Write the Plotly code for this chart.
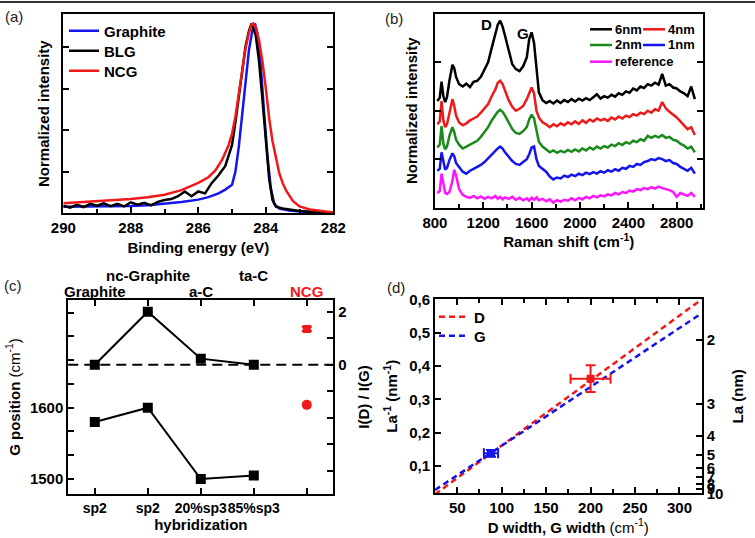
import plotly.graph_objects as go

W, H = 755, 538
FONT = "Liberation Sans, Arial, sans-serif"

# ---------------- (a) XPS C1s spectra ----------------
xps_names = ["Graphite", "BLG", "NCG"]
graphite_e = [290, 289, 288, 287.5, 287, 286.5, 286, 285.7, 285.4, 285.2, 285.0, 284.9, 284.8, 284.7,
              284.6, 284.5, 284.4, 284.32, 284.25, 284.15, 284.05, 283.95, 283.85, 283.75, 283.6, 283.3,
              283.0, 282.5, 282]
graphite_i = [0.035, 0.036, 0.039, 0.043, 0.05, 0.06, 0.072, 0.085, 0.105, 0.125, 0.15, 0.22, 0.35, 0.53,
              0.71, 0.86, 0.96, 1.0, 0.95, 0.78, 0.53, 0.30, 0.13, 0.05, 0.025, 0.015, 0.01, 0.006, 0.003]
blg_e = [290, 289.8, 289.6, 289.4, 289.2, 289, 288.8, 288.6, 288.4, 288.2, 288, 287.8, 287.6, 287.4, 287.2,
         287.0, 286.8, 286.6, 286.4, 286.2, 286.0, 285.8, 285.6, 285.4, 285.2, 285.0, 284.9, 284.8, 284.7,
         284.6, 284.5, 284.42, 284.3, 284.2, 284.1, 284.0, 283.9, 283.8, 283.7, 283.5, 283.3, 283.0, 282.5, 282]
blg_i = [0.04, 0.03, 0.045, 0.033, 0.05, 0.04, 0.052, 0.038, 0.05, 0.036, 0.058, 0.045, 0.055, 0.042, 0.06,
         0.07, 0.075, 0.09, 0.115, 0.09, 0.115, 0.105, 0.16, 0.2, 0.25, 0.36, 0.48, 0.62, 0.76,
         0.88, 0.96, 1.0, 0.94, 0.80, 0.60, 0.40, 0.18, 0.07, 0.035, 0.025, 0.02, 0.012, 0.006, 0.003]
ncg_e = [290, 289.5, 289, 288.5, 288, 287.5, 287, 286.5, 286, 285.7, 285.5, 285.3, 285.1, 285.0, 284.9,
         284.8, 284.7, 284.6, 284.5, 284.42, 284.38, 284.3, 284.2, 284.1, 284.0, 283.9, 283.8, 283.7, 283.6,
         283.5, 283.4, 283.2, 283.0, 282.7, 282.4, 282.2, 282]
ncg_i = [0.053, 0.058, 0.063, 0.068, 0.075, 0.085, 0.098, 0.122, 0.16, 0.19, 0.225, 0.28, 0.36, 0.42, 0.51,
         0.63, 0.76, 0.87, 0.95, 0.995, 1.0, 0.98, 0.91, 0.80, 0.66, 0.50, 0.38, 0.29, 0.21,
         0.16, 0.12, 0.065, 0.036, 0.02, 0.012, 0.008, 0.004]

# ---------------- (b) Raman spectra (offset) ----------------
raman_names = ["6nm", "4nm", "2nm", "1nm", "reference"]
raman_shift = [820, 840, 855, 870, 885, 900, 920, 945, 960, 975,
               1000, 1030, 1060, 1090, 1120, 1150, 1180, 1210, 1240, 1270,
               1300, 1320, 1340, 1360, 1380, 1410, 1440, 1470, 1500, 1530,
               1560, 1580, 1600, 1620, 1640, 1660, 1690, 1720, 1750, 1780,
               1810, 1840, 1870, 1900, 1930, 1960, 1990, 2020, 2050, 2080,
               2110, 2140, 2170, 2200, 2230, 2260, 2290, 2320, 2350, 2380,
               2410, 2440, 2470, 2500, 2530, 2560, 2590, 2620, 2650, 2680,
               2710, 2740, 2770, 2800, 2830, 2860, 2890, 2920, 2950]
raman_6nm = [2.20, 2.27, 2.60, 2.30, 2.18, 2.28, 2.62, 2.95, 2.88, 2.70,
             2.55, 2.50, 2.56, 2.49, 2.60, 2.62, 2.70, 2.85, 3.00, 3.30,
             3.62, 3.78, 3.86, 3.74, 3.55, 3.22, 2.96, 2.86, 2.82, 2.92,
             3.10, 3.48, 3.62, 3.40, 2.80, 2.38, 2.22, 2.16, 2.20, 2.15,
             2.21, 2.16, 2.22, 2.18, 2.24, 2.19, 2.25, 2.21, 2.26, 2.22,
             2.28, 2.34, 2.25, 2.30, 2.27, 2.33, 2.29, 2.36, 2.33, 2.40,
             2.37, 2.46, 2.42, 2.50, 2.47, 2.55, 2.52, 2.58, 2.54, 2.76,
             2.52, 2.55, 2.48, 2.46, 2.40, 2.36, 2.30, 2.50, 2.24]
raman_4nm = [1.72, 1.78, 2.20, 1.80, 1.66, 1.72, 1.95, 2.24, 2.10, 1.90,
             1.76, 1.70, 1.74, 1.80, 1.84, 1.88, 1.96, 2.05, 2.14, 2.30,
             2.44, 2.58, 2.62, 2.55, 2.40, 2.22, 2.08, 2.00, 2.04, 2.10,
             2.24, 2.38, 2.48, 2.36, 2.00, 1.86, 1.76, 1.72, 1.66, 1.72,
             1.68, 1.74, 1.70, 1.76, 1.72, 1.78, 1.73, 1.80, 1.75, 1.82,
             1.78, 1.84, 1.80, 1.83, 1.79, 1.86, 1.82, 1.88, 1.84, 1.90,
             1.87, 1.93, 1.90, 1.96, 1.93, 2.00, 1.96, 2.03, 2.00, 2.18,
             2.05, 1.98, 1.92, 1.86, 1.78, 1.70, 1.62, 1.66, 1.50]
raman_2nm = [1.24, 1.30, 1.68, 1.32, 1.20, 1.26, 1.48, 1.66, 1.56, 1.40,
             1.30, 1.22, 1.26, 1.30, 1.34, 1.38, 1.46, 1.55, 1.66, 1.80,
             1.90, 1.98, 2.02, 1.98, 1.90, 1.76, 1.62, 1.54, 1.52, 1.58,
             1.66, 1.82, 1.92, 1.84, 1.56, 1.36, 1.26, 1.20, 1.14, 1.18,
             1.13, 1.17, 1.14, 1.19, 1.15, 1.20, 1.16, 1.22, 1.18, 1.24,
             1.20, 1.26, 1.22, 1.27, 1.24, 1.30, 1.27, 1.33, 1.29, 1.35,
             1.32, 1.38, 1.35, 1.41, 1.38, 1.48, 1.44, 1.48, 1.45, 1.50,
             1.44, 1.46, 1.40, 1.38, 1.32, 1.28, 1.22, 1.26, 1.14]
raman_1nm = [0.76, 0.80, 1.14, 0.92, 0.78, 0.82, 0.98, 1.12, 1.06, 0.92,
             0.84, 0.74, 0.70, 0.76, 0.80, 0.84, 0.88, 0.94, 1.02, 1.10,
             1.16, 1.22, 1.26, 1.22, 1.14, 1.04, 0.96, 0.90, 0.88, 0.94,
             1.00, 1.10, 1.24, 1.26, 1.00, 0.86, 0.80, 0.74, 0.64, 0.58,
             0.62, 0.60, 0.66, 0.63, 0.68, 0.65, 0.70, 0.67, 0.72, 0.69,
             0.73, 0.70, 0.75, 0.72, 0.77, 0.74, 0.79, 0.76, 0.82, 0.80,
             0.86, 0.84, 0.90, 0.88, 0.94, 0.96, 1.00, 0.98, 1.02, 1.00,
             0.96, 0.98, 0.92, 0.90, 0.84, 0.80, 0.76, 0.82, 0.70]
raman_ref = [0.30, 0.34, 0.70, 0.48, 0.30, 0.28, 0.32, 0.55, 0.78, 0.66,
             0.38, 0.26, 0.22, 0.20, 0.24, 0.19, 0.23, 0.18, 0.22, 0.19,
             0.24, 0.18, 0.22, 0.17, 0.21, 0.18, 0.22, 0.16, 0.20, 0.15,
             0.19, 0.14, 0.20, 0.16, 0.21, 0.15, 0.18, 0.13, 0.17, 0.10,
             0.15, 0.12, 0.16, 0.14, 0.19, 0.15, 0.20, 0.17, 0.22, 0.19,
             0.24, 0.21, 0.25, 0.23, 0.27, 0.25, 0.30, 0.27, 0.32, 0.30,
             0.35, 0.33, 0.38, 0.36, 0.40, 0.38, 0.42, 0.39, 0.43, 0.40,
             0.38, 0.36, 0.32, 0.22, 0.30, 0.27, 0.24, 0.30, 0.22]
raman_peak_labels = ["D", "G"]
raman_peak_x = [1230, 1528]
raman_peak_y = [3.79, 3.60]

# ---------------- (c) G position and I(D)/I(G) ----------------
hyb_labels = ["sp2", "sp2", "20%sp3", "85%sp3"]
material_names = ["Graphite", "nc-Graphite", "a-C", "ta-C", "NCG"]
material_idx = [0, 1, 2, 3]
g_position = [1580, 1600, 1500, 1505]
id_ig = [0.0, 2.0, 0.23, 0.0]
ncg_idx = [4]
ncg_g_position = [1604]
ncg_g_err = [3]
ncg_id_ig = [1.35]
ncg_id_ig_err = [0.08]
g_pos_labels = [1500, 1600]
g_pos_minor = [1533.3, 1566.7, 1633.3, 1666.7, 1700, 1733.3]
ratio_labels = [0, 2]
ratio_minor = [-4, -3, -2, -1, 1]

# ---------------- (d) La from band widths ----------------
fit_width = [25, 325]
fit_la_inv_D = [0.015, 0.600]
fit_la_inv_G = [0.028, 0.558]
d_width, d_width_err, d_la_inv, d_la_inv_err = [200], [22.5], [0.362], [0.04]
g_width, g_width_err, g_la_inv, g_la_inv_err = [88], [8], [0.138], [0.01]
la_tick_values = [2, 3, 4, 5, 6, 7, 8, 9, 10]

# ---------------- colours ----------------
BLUE = "#1414ee"
RED = "#f01818"
GREEN = "#1a8a1a"
MAGENTA = "#ff14ff"
BLACK = "#000000"


def xd(l, r):
    return [l / W, r / W]


def yd(t, b):
    return [1 - b / H, 1 - t / H]


def px(x):
    return x / W


def py(y):
    return 1 - y / H


fig = go.Figure()

# (a)
for name, e, i, col, lg in zip(xps_names, [graphite_e, blg_e, ncg_e], [graphite_i, blg_i, ncg_i],
                               [BLUE, BLACK, RED], ["legend", "legend2", "legend3"]):
    fig.add_trace(go.Scatter(x=e, y=i, mode="lines", name=name, line=dict(color=col, width=2.5),
                             xaxis="x", yaxis="y", legend=lg))

# (b)
for name, yv, col in zip(raman_names, [raman_6nm, raman_4nm, raman_2nm, raman_1nm, raman_ref],
                         [BLACK, RED, GREEN, BLUE, MAGENTA]):
    fig.add_trace(go.Scatter(x=raman_shift, y=yv, mode="lines", name=name, showlegend=False,
                             line=dict(color=col, width=2.5), xaxis="x2", yaxis="y2"))

# (c)
fig.add_trace(go.Scatter(x=material_idx, y=g_position, mode="lines+markers", showlegend=False,
                         line=dict(color=BLACK, width=2), marker=dict(symbol="square", size=10, color=BLACK),
                         xaxis="x3", yaxis="y3"))
fig.add_trace(go.Scatter(x=ncg_idx, y=ncg_g_position, mode="markers", showlegend=False,
                         error_y=dict(type="data", array=ncg_g_err, color=RED, thickness=2, width=4),
                         marker=dict(symbol="circle", size=10, color=RED), xaxis="x3", yaxis="y3"))
fig.add_trace(go.Scatter(x=material_idx, y=id_ig, mode="lines+markers", showlegend=False,
                         line=dict(color=BLACK, width=2), marker=dict(symbol="square", size=10, color=BLACK),
                         xaxis="x3", yaxis="y4"))
fig.add_trace(go.Scatter(x=ncg_idx, y=ncg_id_ig, mode="markers", showlegend=False,
                         error_y=dict(type="data", array=ncg_id_ig_err, color=RED, thickness=2, width=5),
                         marker=dict(symbol="square", size=8, color=RED), xaxis="x3", yaxis="y4"))

# (d)
fig.add_trace(go.Scatter(x=fit_width, y=fit_la_inv_D, mode="lines", name="D", legend="legend4",
                         line=dict(color=RED, width=2.5, dash="6px,4px"), xaxis="x4", yaxis="y5"))
fig.add_trace(go.Scatter(x=fit_width, y=fit_la_inv_G, mode="lines", name="G", legend="legend5",
                         line=dict(color=BLUE, width=2.5, dash="6px,4px"), xaxis="x4", yaxis="y5"))
fig.add_trace(go.Scatter(x=d_width, y=d_la_inv, mode="markers", showlegend=False,
                         error_x=dict(type="data", array=d_width_err, color=RED, thickness=2, width=5),
                         error_y=dict(type="data", array=d_la_inv_err, color=RED, thickness=2, width=5),
                         marker=dict(symbol="square", size=8, color=RED), xaxis="x4", yaxis="y5"))
fig.add_trace(go.Scatter(x=g_width, y=g_la_inv, mode="markers", showlegend=False,
                         error_x=dict(type="data", array=g_width_err, color=BLUE, thickness=2, width=5),
                         error_y=dict(type="data", array=g_la_inv_err, color=BLUE, thickness=2, width=5),
                         marker=dict(symbol="square", size=8, color=BLUE), xaxis="x4", yaxis="y5"))
fig.add_trace(go.Scatter(x=[], y=[], showlegend=False, xaxis="x4", yaxis="y6"))

tickfont = dict(family=FONT, size=15, color="black", weight="bold")
titlefont_b = dict(family=FONT, size=15, color="black", weight="bold")
titlefont_n = dict(family=FONT, size=15, color="black", weight="normal")
common = dict(showline=True, linecolor="black", linewidth=2, ticks="inside", tickcolor="black",
              tickwidth=2, ticklen=6, showgrid=False, zeroline=False, tickfont=tickfont, tickangle=0)
minor = dict(ticks="inside", ticklen=4, tickwidth=2, tickcolor="black", showgrid=False)
minor_full = dict(ticks="inside", ticklen=6, tickwidth=2, tickcolor="black", showgrid=False)

layout = dict(
    width=W, height=H, margin=dict(l=0, r=0, t=0, b=0),
    paper_bgcolor="white", plot_bgcolor="white", template="none",
    separators=",.",
    font=dict(family=FONT, size=15, color="black"),
    # (a)
    xaxis=dict(common, domain=xd(63.3, 333.3), anchor="y", range=[290, 282], tick0=0, dtick=2,
               minor=dict(minor, dtick=1), mirror=True,
               title=dict(text="Binding energy (eV)", font=titlefont_b, standoff=7)),
    yaxis=dict(common, domain=yd(14, 213.3), anchor="x", range=[0, 1.05], tick0=0, dtick=0.219,
               showticklabels=False, mirror="ticks",
               title=dict(text="Normalized intensity", font=titlefont_b, standoff=8)),
    # (b)
    xaxis2=dict(common, domain=xd(434.9, 702.7), anchor="y2", range=[800, 3015], tick0=800, dtick=400,
                minor=dict(minor, dtick=200), mirror=True,
                title=dict(text="Raman shift (cm<sup>-1</sup>)", font=titlefont_b, standoff=7)),
    yaxis2=dict(common, domain=yd(14, 207.5), anchor="x2", range=[0, 4], tick0=0, dtick=1,
                showticklabels=False, mirror="ticks",
                title=dict(text="Normalized intensity", font=titlefont_b, standoff=12)),
    # (c)
    xaxis3=dict(common, domain=xd(68.3, 333.3), anchor="y3", range=[-0.5, 4.5],
                tickvals=material_idx, ticktext=hyb_labels, mirror="ticks",
                tickfont=dict(tickfont, size=14),
                minor=dict(minor_full, tickvals=ncg_idx),
                title=dict(text="hybridization", font=titlefont_b, standoff=4)),
    yaxis3=dict(common, domain=yd(300, 494), anchor="x3", range=[1479, 1751],
                tickvals=g_pos_labels, minor=dict(minor_full, tickvals=g_pos_minor),
                title=dict(text="<b>G position</b> (cm<sup>-1</sup>)", font=titlefont_n, standoff=6)),
    yaxis4=dict(common, overlaying="y3", side="right", anchor="x3", range=[-4.87, 2.44],
                tickvals=ratio_labels, minor=dict(minor_full, tickvals=ratio_minor),
                title=dict(text="I(D) / I(G)", font=titlefont_b, standoff=13)),
    # (d)
    xaxis4=dict(common, domain=xd(435, 701.7), anchor="y5", range=[25, 325], tick0=0, dtick=50,
                minor=dict(minor, dtick=25), mirror="ticks",
                title=dict(text="<b>D width, G width</b> (cm<sup>-1</sup>)", font=titlefont_n, standoff=5)),
    yaxis5=dict(common, domain=yd(299.3, 493.3), anchor="x4", range=[0.018, 0.6],
                tickvals=[0.1, 0.2, 0.3, 0.4, 0.5, 0.6], tickformat=".1f",
                title=dict(text="La<sup>-1</sup> (nm<sup>-1</sup>)", font=titlefont_b, standoff=8)),
    yaxis6=dict(common, overlaying="y5", side="right", anchor="x4", range=[0.1, 0.607],
                tickvals=[1 / v for v in la_tick_values], ticktext=[str(v) for v in la_tick_values],
                title=dict(text="La (nm)", font=titlefont_b, standoff=10)),
)


def leg(xp, yp):
    return dict(x=px(xp), y=py(yp), xanchor="left", yanchor="middle", bgcolor="rgba(0,0,0,0)",
                borderwidth=0, font=dict(family=FONT, size=15, color="black", weight="bold"))


layout["legend"] = leg(64, 31)
layout["legend2"] = leg(64, 51)
layout["legend3"] = leg(64, 71)
layout["legend4"] = leg(434, 317)
layout["legend5"] = leg(434, 336)
fig.update_layout(**layout)

annotations = []
for txt, xp, yp in [("(a)", 3, 16.5), ("(b)", 383, 18), ("(c)", 2, 285), ("(d)", 385, 287)]:
    annotations.append(dict(text=txt, x=px(xp), y=py(yp), xref="paper", yref="paper", xanchor="left",
                            yanchor="middle", showarrow=False,
                            font=dict(family=FONT, size=15, color="#222", weight="normal")))
for txt, xv, yv in zip(raman_peak_labels, raman_peak_x, raman_peak_y):
    annotations.append(dict(text=txt, x=xv, y=yv, xref="x2", yref="y2", showarrow=False,
                            xanchor="center", yanchor="middle", font=dict(family=FONT, size=15, weight="bold")))
top_rows = [291, 275, 291, 275, 291]
for k, (txt, yp) in enumerate(zip(material_names, top_rows)):
    annotations.append(dict(text=txt, x=k, y=py(yp), xref="x3", yref="paper", showarrow=False,
                            xanchor="center", yanchor="middle",
                            font=dict(family=FONT, size=15, weight="bold",
                                      color=RED if txt == "NCG" else "black")))

shapes = [dict(type="line", xref="paper", yref="paper", x0=0, x1=1, y0=py(2), y1=py(2),
               line=dict(color="#333", width=2)),
          dict(type="line", xref="x3 domain", yref="y4", x0=0, x1=1, y0=0, y1=0,
               line=dict(color="black", width=2, dash="10px,6px"))]

# manual two-column legend for (b)
leg_b = [("6nm", BLACK, 590, 29.3), ("4nm", RED, 643, 29.3), ("2nm", GREEN, 590, 45),
         ("1nm", BLUE, 643, 45), ("reference", MAGENTA, 590, 61.7)]
for txt, col, xp, yp in leg_b:
    shapes.append(dict(type="line", xref="paper", yref="paper", x0=px(xp), x1=px(xp + 22),
                       y0=py(yp), y1=py(yp), line=dict(color=col, width=2.5)))
    annotations.append(dict(text=txt, x=px(xp + 23), y=py(yp), xref="paper", yref="paper",
                            xanchor="left", yanchor="middle", showarrow=False,
                            font=dict(family=FONT, size=13, weight="bold", color="black")))

fig.update_layout(annotations=annotations, shapes=shapes)
fig.write_html("out.html")
